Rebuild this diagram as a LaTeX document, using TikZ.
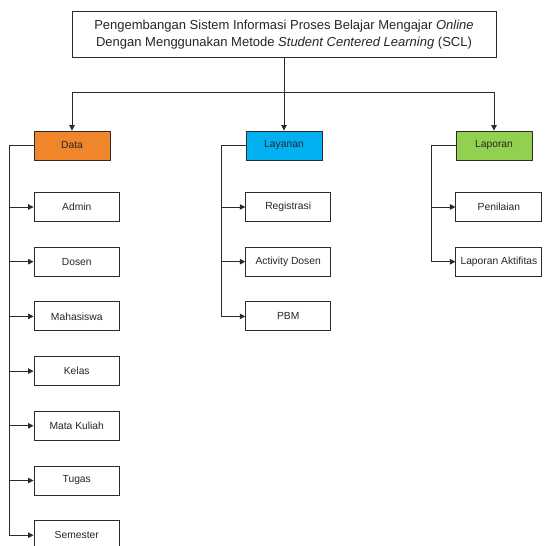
\documentclass[tikz,border=0pt]{standalone}
\usepackage{fontspec}
\setmainfont{Liberation Sans}
\usetikzlibrary{arrows.meta}
\definecolor{lineclr}{HTML}{2B2B2B}
\definecolor{dataclr}{HTML}{F0862A}
\definecolor{layclr}{HTML}{00B0F0}
\definecolor{lapclr}{HTML}{92D050}
\definecolor{txtclr}{HTML}{262626}
\begin{document}
\begin{tikzpicture}[x=1pt,y=-1pt,
  box/.style={draw=lineclr,line width=0.9pt,inner sep=0pt,text=txtclr,
    font=\fontsize{10.3}{12}\selectfont,minimum height=29pt},
  headbox/.style={box,minimum width=76pt},
  childbox/.style={box,minimum width=85.5pt,fill=white},
  conn/.style={draw=lineclr,line width=0.9pt},
  arr/.style={conn,-{Triangle[length=5.5pt,width=5.5pt]}}]
\clip (0,0) rectangle (544,546);
\fill[white] (0,0) rectangle (544,546);

\node[box,minimum width=424pt,minimum height=46pt,align=center,
  font=\fontsize{13}{17}\selectfont] (top) at (284,34.5)
  {Pengembangan Sistem Informasi Proses Belajar Mengajar \textit{Online}\\
   Dengan Menggunakan Metode \textit{Student Centered Learning} (SCL)};

\node[headbox,fill=dataclr] (data) at (72,145.5) {Data};
\node[headbox,fill=layclr] (lay) at (284,145.5) {Layanan};
\node[headbox,fill=lapclr] (lap) at (494,145.5) {Laporan};

\coordinate (hb) at (284,92.5);
\draw[arr] (top.south) -- (lay.north);
\draw[arr] (hb) -| (data.north);
\draw[arr] (hb) -| (lap.north);

% Data children
\foreach \n/\t [count=\i from 0] in {admin/Admin,dosen/Dosen,mhs/Mahasiswa,kelas/Kelas,mk/Mata Kuliah,tugas/Tugas,sem/Semester}
  \node[childbox] (\n) at (76.75,{207+54.7*\i}) {\t};
\coordinate (bD) at (9.5,0);
\draw[arr] (data.west) -| (bD |- sem.west) -- (sem.west);
\foreach \n in {admin,dosen,mhs,kelas,mk,tugas}
  \draw[arr] (bD |- \n.west) -- (\n.west);

% Layanan children
\node[childbox,minimum width=85pt] (reg) at (288.2,207) {Registrasi};
\node[childbox,minimum width=85pt] (act) at (288.2,261.7) {Activity Dosen};
\node[childbox,minimum width=85pt] (pbm) at (288.2,316.4) {PBM};
\coordinate (bL) at (221,0);
\draw[arr] (lay.west) -| (bL |- pbm.west) -- (pbm.west);
\foreach \n in {reg,act}
  \draw[arr] (bL |- \n.west) -- (\n.west);

% Laporan children
\node[childbox,minimum width=86pt] (nil) at (498.9,207) {Penilaian};
\node[childbox,minimum width=86pt] (lak) at (498.9,261.7) {Laporan Aktifitas};
\coordinate (bP) at (431.7,0);
\draw[arr] (lap.west) -| (bP |- lak.west) -- (lak.west);
\draw[arr] (bP |- nil.west) -- (nil.west);
\end{tikzpicture}
\end{document}
